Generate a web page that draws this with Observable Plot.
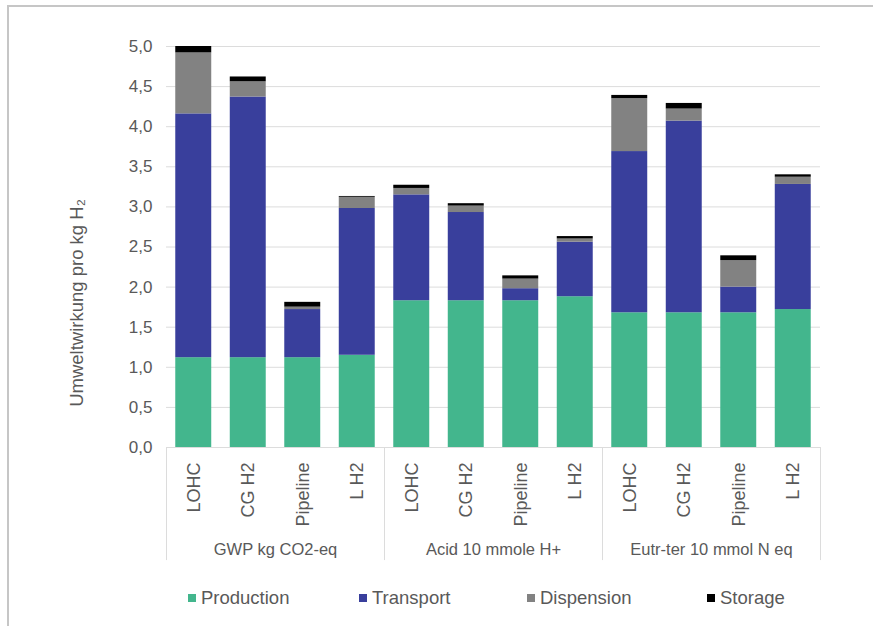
<!DOCTYPE html>
<html>
<head>
<meta charset="utf-8">
<script src="https://cdn.jsdelivr.net/npm/d3@7"></script>
<script src="https://cdn.jsdelivr.net/npm/@observablehq/plot@0.6"></script>
<style>
  html, body { margin: 0; padding: 0; background: #fff; }
  body { width: 873px; height: 626px; position: relative; overflow: hidden; font-family: "Liberation Sans", Arial, sans-serif; }
  #frame { position: absolute; left: 7px; top: 5px; width: 880px; height: 640px; border: 2px solid #c6c6c6; box-sizing: border-box; }
  #chart { position: absolute; left: 0; top: 0; }
  #legend { position: absolute; left: 0; top: 586px; width: 873px; height: 24px; font-size: 18.5px; color: #595959; }
  .item { position: absolute; top: 0; display: flex; align-items: center; height: 24px; }
  .sw { width: 8px; height: 8px; margin-right: 5px; }
</style>
</head>
<body>
<div id="frame"></div>
<div id="chart"></div>
<div id="legend"></div>
<script>
const groups = ["GWP kg CO2-eq", "Acid 10 mmole H+", "Eutr-ter 10 mmol N eq"];
const modes = ["LOHC", "CG H2", "Pipeline", "L H2"];
const production = [1.12, 1.12, 1.12, 1.15, 1.83, 1.83, 1.83, 1.88, 1.68, 1.68, 1.68, 1.72];
const transport  = [3.04, 3.25, 0.60, 1.83, 1.32, 1.10, 0.15, 0.68, 2.01, 2.39, 0.32, 1.56];
const dispension = [0.76, 0.19, 0.03, 0.14, 0.08, 0.08, 0.12, 0.04, 0.66, 0.15, 0.33, 0.09];
const storage    = [0.08, 0.06, 0.06, 0.01, 0.04, 0.03, 0.04, 0.03, 0.04, 0.07, 0.06, 0.03];
const seriesNames = ["Production", "Transport", "Dispension", "Storage"];
const seriesColors = ["#43b68d", "#393f9c", "#828282", "#000000"];
const yTicks = [0, 0.5, 1, 1.5, 2, 2.5, 3, 3.5, 4, 4.5, 5];

const seriesValues = [production, transport, dispension, storage];
const bars = [];
const labels = [];
groups.forEach((g, gi) => modes.forEach((m, mi) => {
  const i = gi * modes.length + mi;
  labels.push({i, mode: m});
  seriesNames.forEach((s, si) => bars.push({i, group: g, mode: m, series: s, value: seriesValues[si][i]}));
}));
const groupLabels = groups.map((g, gi) => ({g, x: gi * modes.length + (modes.length - 1) / 2}));
const seps = d3.range(groups.length + 1).map(k => k * modes.length - 0.5);
const fmt = v => d3.format(".1f")(v).replace(".", ",");
const half = 0.33;

const chart = Plot.plot({
  width: 873,
  height: 580,
  marginTop: 46,
  marginBottom: 133,
  marginLeft: 166,
  marginRight: 53,
  style: {fontFamily: "'Liberation Sans', Arial, sans-serif", fontSize: "17px", color: "#595959", background: "transparent"},
  x: {domain: [-0.5, groups.length * modes.length - 0.5], axis: null},
  y: {domain: [0, 5], ticks: yTicks, tickFormat: fmt, tickSize: 0, tickPadding: 14, label: null},
  color: {domain: seriesNames, range: seriesColors},
  marks: [
    Plot.ruleY(yTicks, {stroke: "#dcdcdc", strokeWidth: 1}),
    Plot.rectY(bars, Plot.stackY({
      x1: d => d.i - half, x2: d => d.i + half,
      y: "value", fill: "series", order: seriesNames
    })),
    Plot.ruleX(seps, {y1: 0, y2: -1.41, stroke: "#dcdcdc", strokeWidth: 1}),
    Plot.text(labels, {x: "i", y: 0, text: "mode", rotate: -90, textAnchor: "end", dy: 15, fontSize: 18, fill: "#595959"}),
    Plot.text(groupLabels, {x: "x", y: 0, text: "g", dy: 102, fontSize: 16.5, fill: "#595959"}),
    Plot.text(["Umweltwirkung pro kg H\u2082"], {frameAnchor: "left", textAnchor: "middle", dx: -89, dy: 56, rotate: -90, fontSize: 18.5, fill: "#595959"})
  ]
});
document.getElementById("chart").appendChild(chart);

const legendX = [188, 359, 527, 707];
const legend = document.getElementById("legend");
seriesNames.forEach((s, k) => {
  const it = document.createElement("div");
  it.className = "item";
  it.style.left = legendX[k] + "px";
  it.innerHTML = `<span class="sw" style="background:${seriesColors[k]}"></span><span>${s}</span>`;
  legend.appendChild(it);
});
</script>
</body>
</html>
